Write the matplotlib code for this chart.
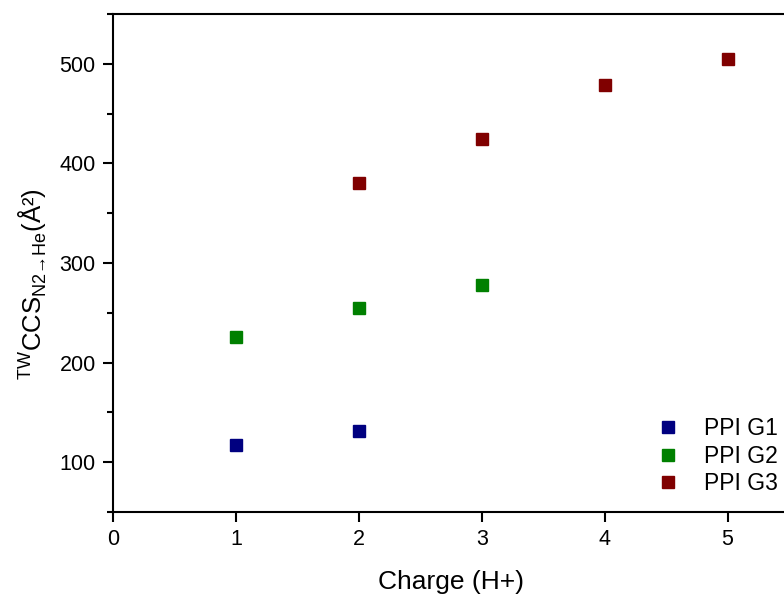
import matplotlib
matplotlib.use("Agg")
import matplotlib.pyplot as plt
from matplotlib.ticker import MultipleLocator

plt.rcParams['font.family'] = ['Liberation Sans', 'DejaVu Sans']
plt.rcParams['mathtext.fontset'] = 'custom'
plt.rcParams['mathtext.rm'] = 'Liberation Sans'

# charge states and CCS values (A^2) per generation
g1_charge = [1, 2]
g1_ccs = [117, 131]
g2_charge = [1, 2, 3]
g2_ccs = [226, 255, 278]
g3_charge = [2, 3, 4, 5]
g3_ccs = [380, 424, 479, 505]

series = [
    ("PPI G1", g1_charge, g1_ccs, "#000080"),
    ("PPI G2", g2_charge, g2_ccs, "#008000"),
    ("PPI G3", g3_charge, g3_ccs, "#800000"),
]

fig = plt.figure(figsize=(7.84, 5.94), dpi=100)
# axes runs a little past the right edge, like the cropped original
ax = fig.add_axes([113 / 784, 1 - 512 / 594, (789 - 113) / 784, (512 - 14) / 594])

for name, x, y, col in series:
    ax.plot(x, y, linestyle="none", marker="s", markersize=8,
            color=col, markeredgecolor=col, label=name)

ax.set_xlim(0, 5.5)
ax.set_ylim(50, 550)
ax.set_xticks([0, 1, 2, 3, 4, 5])
ax.set_yticks([100, 200, 300, 400, 500])
ax.yaxis.set_minor_locator(MultipleLocator(50))

ax.tick_params(which="major", direction="out", length=7.5, width=1.5,
               labelsize=15.5, pad=5)
ax.tick_params(which="minor", direction="out", length=4, width=1.5)
for s in ax.spines.values():
    s.set_linewidth(1.5)

ax.set_xlabel("Charge (H+)", fontsize=19)
ax.xaxis.set_label_coords(0.5, -0.116)
ax.set_ylabel(r"$^{\mathrm{TW}}$CCS$_{\mathrm{N2}→\mathrm{He}}$(Å²)", fontsize=18.5)
ax.yaxis.set_label_coords(-0.095, 0.458)

ax.legend(loc="lower right", frameon=False, fontsize=16.5, handletextpad=0.57,
          borderaxespad=0.33, labelspacing=0.2, bbox_to_anchor=(1.008, 0.0))

fig.savefig("out.png", dpi=100)
